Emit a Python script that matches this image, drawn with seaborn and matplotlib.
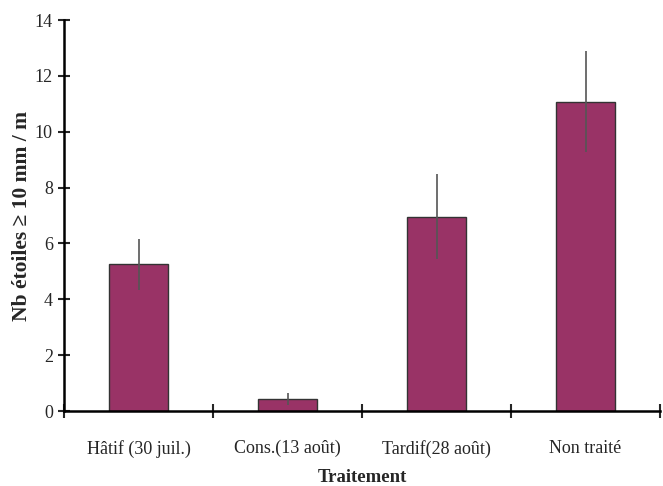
import matplotlib
matplotlib.use("Agg")
import matplotlib.pyplot as plt
import seaborn as sns
import pandas as pd
import numpy as np

categories = ["Hâtif (30 juil.)", "Cons.(13 août)", "Tardif(28 août)", "Non traité"]
values = [5.25, 0.42, 6.95, 11.08]
errors = [0.9, 0.22, 1.52, 1.82]

sns.set_style("white")
plt.rcParams['font.family'] = ['Liberation Serif', 'DejaVu Serif']

df = pd.DataFrame({"cat": categories, "val": values})

fig = plt.figure(figsize=(6.63, 4.86), dpi=100)
ax = fig.add_axes([64/663, 75/486, (660-64)/663, (411-20)/486])
sns.barplot(data=df, x="cat", y="val", ax=ax, color="#993366", saturation=1,
            width=0.4, edgecolor="#333333", linewidth=1.0, errorbar=None)
xs = [p.get_x() + p.get_width()/2 for p in ax.patches]
ax.errorbar(xs, values, yerr=errors, fmt="none", ecolor="#555555", elinewidth=1.2, capsize=0)

ax.set_ylim(0, 14)
ax.set_xlim(-0.5, 3.5)
ax.set_yticks(np.arange(0, 15, 2))
ax.tick_params(axis="y", direction="inout", length=8, width=1.5, labelsize=13, pad=4, left=True)
ax.set_xticks(np.arange(-0.5, 4, 1.0))
ax.set_xticklabels([])
ax.set_xticks(range(len(categories)), minor=True)
ax.set_xticklabels(categories, minor=True, fontsize=13)
ax.tick_params(axis="x", which="major", direction="inout", length=10, width=1.5, bottom=True)
ax.tick_params(axis="x", which="minor", length=0, pad=21)
for s in ["top", "right"]:
    ax.spines[s].set_visible(False)
for s in ["left", "bottom"]:
    ax.spines[s].set_linewidth(1.8)
    ax.spines[s].set_color("black")
ax.set_ylabel("Nb étoiles ≥ 10 mm / m", fontsize=15.5, fontweight="bold", labelpad=2)
ax.set_xlabel("Traitement", fontsize=13.5, fontweight="bold", labelpad=8)

fig.savefig("out.png", dpi=100)
